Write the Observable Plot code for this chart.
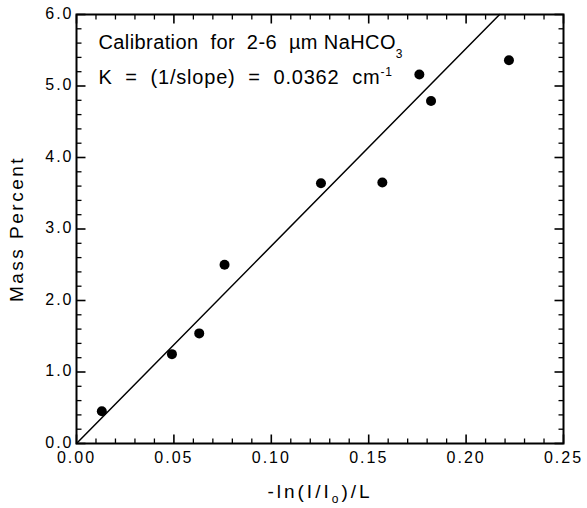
<!DOCTYPE html>
<html>
<head>
<meta charset="utf-8">
<script src="https://cdn.jsdelivr.net/npm/d3@7"></script>
<script src="https://cdn.jsdelivr.net/npm/@observablehq/plot@0.6"></script>
<style>
  html, body { margin: 0; padding: 0; background: #fff; }
  #chart svg { font-family: Arial, "Liberation Sans", Helvetica, sans-serif; }
  #chart g[aria-label="x-axis tick label"] text,
  #chart g[aria-label="y-axis tick label"] text { font-size: 16px; letter-spacing: 2px; }
</style>
</head>
<body>
<div id="chart"></div>
<script>
// ---- data ----
const absorbance = [0.013, 0.049, 0.063, 0.076, 0.1255, 0.157, 0.176, 0.182, 0.222];
const massPercent = [0.45, 1.25, 1.54, 2.50, 3.64, 3.65, 5.16, 4.79, 5.36];
const fitX = [0, 0.2172];
const fitY = [0, 6.0];
const xMajor = [0, 0.05, 0.10, 0.15, 0.20, 0.25];
const xMinor = [0.01, 0.02, 0.03, 0.04, 0.06, 0.07, 0.08, 0.09, 0.11, 0.12, 0.13, 0.14,
                0.16, 0.17, 0.18, 0.19, 0.21, 0.22, 0.23, 0.24];
const yMajor = [0, 1, 2, 3, 4, 5, 6];
const yMinor = [0.2, 0.4, 0.6, 0.8, 1.2, 1.4, 1.6, 1.8, 2.2, 2.4, 2.6, 2.8, 3.2, 3.4, 3.6, 3.8,
                4.2, 4.4, 4.6, 4.8, 5.2, 5.4, 5.6, 5.8];
const line1 = ["Calibration  for  2-6  µm NaHCO", "3"];
const line2 = ["K  =  (1/slope)  =  0.0362  cm", "-1"];
const xLabel = ["-ln(I/I", "o", ")/L"];
const yLabel = "Mass Percent";

const points = absorbance.map((x, i) => ({x, y: massPercent[i]}));
const fit = fitX.map((x, i) => ({x, y: fitY[i]}));

const W = 587, H = 508;
const mt = 14, mr = 24, mb = 65, ml = 76;
const innerW = W - ml - mr, innerH = H - mt - mb;
const xDom = [0, 0.25], yDom = [0, 6];
// inward tick lengths (pixels), converted to data units
const major = 9, minor = 5;
const yLen = px => (yDom[1] - yDom[0]) * px / innerH;
const xLen = px => (xDom[1] - xDom[0]) * px / innerW;

const tickRows = (vals, len, side) => vals.map(v => {
  if (side === "b") return {x1: v, x2: v, y1: yDom[0], y2: yDom[0] + yLen(len)};
  if (side === "t") return {x1: v, x2: v, y1: yDom[1], y2: yDom[1] - yLen(len)};
  if (side === "l") return {x1: xDom[0], x2: xDom[0] + xLen(len), y1: v, y2: v};
  return {x1: xDom[1], x2: xDom[1] - xLen(len), y1: v, y2: v};
});
const ticksMajor = [...tickRows(xMajor, major, "b"), ...tickRows(xMajor, major, "t"),
                    ...tickRows(yMajor, major, "l"), ...tickRows(yMajor, major, "r")];
const ticksMinor = [...tickRows(xMinor, minor, "b"), ...tickRows(xMinor, minor, "t"),
                    ...tickRows(yMinor, minor, "l"), ...tickRows(yMinor, minor, "r")];

const chart = Plot.plot({
  width: W, height: H,
  marginTop: mt, marginRight: mr, marginBottom: mb, marginLeft: ml,
  x: {domain: xDom},
  y: {domain: yDom},
  marks: [
    Plot.link(ticksMajor, {x1: "x1", y1: "y1", x2: "x2", y2: "y2", stroke: "black", strokeWidth: 1.6}),
    Plot.link(ticksMinor, {x1: "x1", y1: "y1", x2: "x2", y2: "y2", stroke: "black", strokeWidth: 1.3}),
    Plot.axisX({ticks: xMajor, tickSize: 0, tickPadding: 8, tickFormat: d3.format(".2f"), label: null}),
    Plot.axisY({ticks: yMajor, tickSize: 0, tickPadding: 3, dy: -1, tickFormat: d3.format(".1f"), label: null}),
    Plot.frame({stroke: "black", strokeWidth: 2}),
    Plot.line(fit, {x: "x", y: "y", stroke: "black", strokeWidth: 1.5}),
    Plot.dot(points, {x: "x", y: "y", r: 5, fill: "black", stroke: "none"}),
    Plot.text([line1.join("")], {frameAnchor: "top-left", dx: 22, dy: 34, lineAnchor: "bottom", textAnchor: "start", fontSize: 20, fill: "black"}),
    Plot.text([line2.join("")], {frameAnchor: "top-left", dx: 22, dy: 69, lineAnchor: "bottom", textAnchor: "start", fontSize: 20, fill: "black"}),
    Plot.text([xLabel.join("")], {frameAnchor: "bottom", dy: 54, lineAnchor: "bottom", fontSize: 19, fill: "black"}),
    Plot.text([yLabel], {frameAnchor: "left", dx: -60, rotate: -90, lineAnchor: "middle", textAnchor: "middle", fontSize: 19, fill: "black"})
  ]
});

document.getElementById("chart").appendChild(chart);

// rebuild texts with sub/superscripts as tspans
function rich(full, parts) {
  d3.select(chart).selectAll("text").filter(function() { return this.textContent === full; })
    .each(function() {
      const t = d3.select(this);
      t.text(null);
      parts.forEach(p => {
        const s = t.append("tspan").text(p.t);
        if (p.shift) s.attr("baseline-shift", p.shift).style("font-size", p.size);
      });
    });
}
rich(line1.join(""), [{t: line1[0]}, {t: line1[1], shift: "-9px", size: "12px"}]);
rich(line2.join(""), [{t: line2[0]}, {t: line2[1], shift: "8px", size: "12px"}]);
rich(xLabel.join(""), [{t: xLabel[0]}, {t: xLabel[1], shift: "-5px", size: "12px"}, {t: xLabel[2]}]);

d3.select(chart).selectAll("text").filter(function() {
  return this.textContent.startsWith("Calibration");
}).style("letter-spacing", "0.4px");
d3.select(chart).selectAll("text").filter(function() {
  return this.textContent.startsWith("K ");
}).style("letter-spacing", "0.8px");
d3.select(chart).selectAll("text").filter(function() {
  return this.textContent === yLabel;
}).style("letter-spacing", "2.5px");
d3.select(chart).selectAll("text").filter(function() {
  return this.textContent.startsWith("-ln");
}).style("letter-spacing", "3px");
</script>
</body>
</html>
